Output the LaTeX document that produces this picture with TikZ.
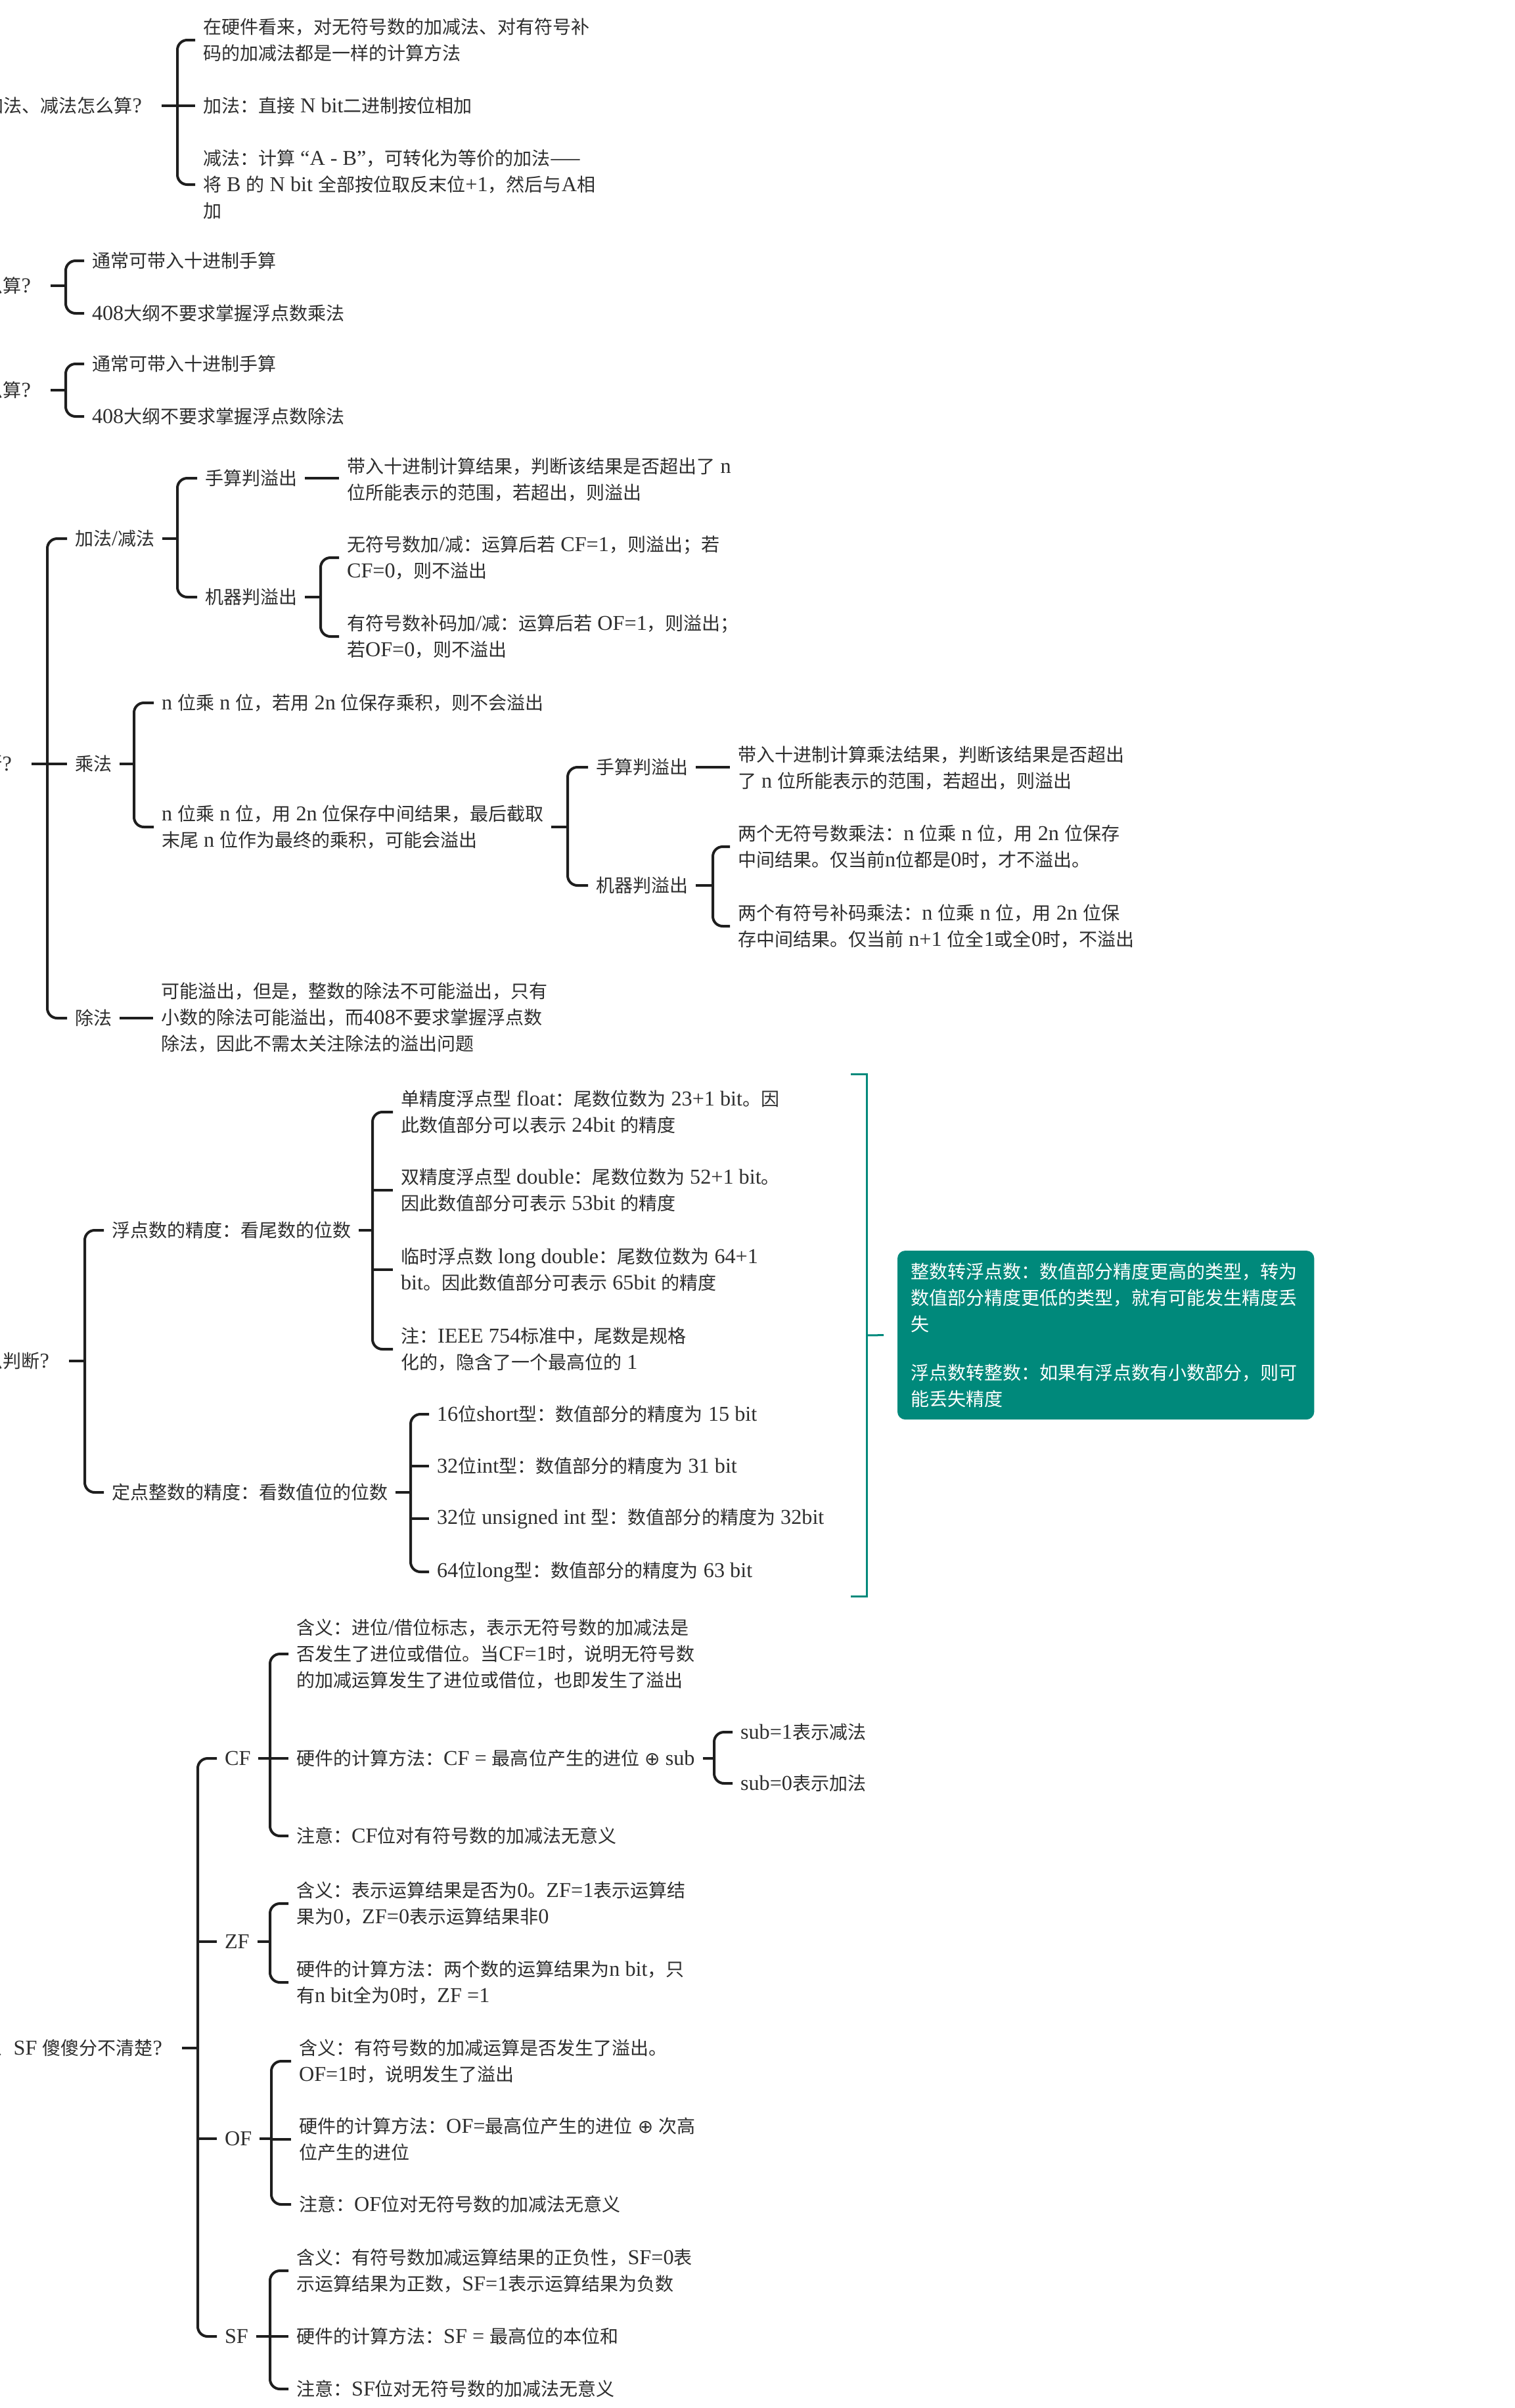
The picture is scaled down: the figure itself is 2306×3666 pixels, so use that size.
\documentclass[tikz,border=0pt]{standalone}
\usepackage{fontspec}
\setmainfont[Scale=1.15]{Liberation Serif}
\newfontfamily\cjkfont{Noto Sans CJK SC}
\newfontfamily\latfont[Scale=1.15]{Liberation Serif}
\newfontfamily\symfont{DejaVu Sans}
\XeTeXinterchartokenstate=1
\newXeTeXintercharclass\cjkclass
\makeatletter
\count@="3000
\loop\ifnum\count@<"3040 \XeTeXcharclass\count@=\cjkclass \advance\count@ 1 \repeat
\count@="4E00
\loop\ifnum\count@<"A000 \XeTeXcharclass\count@=\cjkclass \advance\count@ 1 \repeat
\count@="FF00
\loop\ifnum\count@<"FFF0 \XeTeXcharclass\count@=\cjkclass \advance\count@ 1 \repeat
\XeTeXcharclass"2014=\cjkclass
\makeatother
\XeTeXinterchartoks 0 \cjkclass = {\cjkfont}
\XeTeXinterchartoks 4095 \cjkclass = {\cjkfont}
\XeTeXinterchartoks \cjkclass 0 = {\latfont}
\XeTeXinterchartoks \cjkclass 4095 = {\latfont}
\definecolor{txt}{HTML}{2E2E2E}
\definecolor{ln}{HTML}{1E1E1E}
\definecolor{tealc}{HTML}{00897B}
\newcommand\mybrk[4]{%
  \coordinate (bx) at (#2,0);
  \draw[conn] (#1.east) -- (#1.east -| bx);
  \draw[conn,rounded corners=0.15cm] (#3.west) -- (#3.west -| bx) -- (#4.west -| bx) -- (#4.west);
}
\newcommand\midtick[1]{\draw[conn] (#1.west -| bx) -- (#1.west);}
\newcommand\onelink[2]{\draw[conn] (#1.east) -- (#1.east -| #2.west);}
\begin{document}
\begin{tikzpicture}[x=0.01cm,y=-0.01cm,
 every node/.style={font=\fontsize{7.97pt}{11.38pt}\selectfont,text=txt,inner ysep=1pt,outer sep=0pt},
 tx/.style={anchor=west,align=left,inner xsep=0.12cm},
 rt/.style={anchor=east,align=right,inner xsep=0.3cm},
 conn/.style={draw=ln,line width=0.04cm},
 tealln/.style={draw=tealc,line width=0.03cm},
 sumbox/.style={fill=tealc,rounded corners=0.12cm,text=white,align=left,text width=5.94cm,inner xsep=0.2cm,minimum height=2.57cm}]
\useasboundingbox (0,0) rectangle (2306,3666);
\fill[white] (0,0) rectangle (2306,3666);
\clip (0,0) rectangle (2306,3666);

% ---------- section 1
\node[rt] (r1) at (246,161) {加法、减法怎么算?};
\node[tx] (c1a) at (297,61) {在硬件看来，对无符号数的加减法、对有符号补\\码的加减法都是一样的计算方法};
\node[tx] (c1b) at (297,161) {加法：直接 N bit二进制按位相加};
\node[tx] (c1c) at (297,281) {减法：计算 “A - B”，可转化为等价的加法——\\将 B 的 N bit 全部按位取反末位+1，然后与A相\\加};
\mybrk{r1}{270}{c1a}{c1c}
\midtick{c1b}

% ---------- section 2
\node[rt] (r2) at (77,435) {乘法怎么算?};
\node[tx] (c2a) at (128,397) {通常可带入十进制手算};
\node[tx] (c2b) at (128,477) {408大纲不要求掌握浮点数乘法};
\mybrk{r2}{100}{c2a}{c2b}

% ---------- section 3
\node[rt] (r3) at (77,594) {除法怎么算?};
\node[tx] (c3a) at (128,554) {通常可带入十进制手算};
\node[tx] (c3b) at (128,634) {408大纲不要求掌握浮点数除法};
\mybrk{r3}{100}{c3a}{c3b}

% ---------- section 4
\node[rt] (r4) at (48,1163) {溢出怎么判断?};
\node[tx] (n41) at (102,820) {加法/减法};
\node[tx] (n42) at (102,1163) {乘法};
\node[tx] (n43) at (102,1550) {除法};
\mybrk{r4}{72}{n41}{n43}
\midtick{n42}

\node[tx] (n411) at (300,728) {手算判溢出};
\node[tx] (n412) at (300,909) {机器判溢出};
\mybrk{n41}{270}{n411}{n412}
\node[tx] (n4111) at (516,730) {带入十进制计算结果，判断该结果是否超出了 n\\位所能表示的范围，若超出，则溢出};
\onelink{n411}{n4111}
\node[tx] (n4121) at (516,849) {无符号数加/减：运算后若 CF=1，则溢出；若\\CF=0，则不溢出};
\node[tx] (n4122) at (516,969) {有符号数补码加/减：运算后若 OF=1，则溢出；\\若OF=0，则不溢出};
\mybrk{n412}{488}{n4121}{n4122}

\node[tx] (n421) at (234,1070) {n 位乘 n 位，若用 2n 位保存乘积，则不会溢出};
\node[tx] (n422) at (234,1259) {n 位乘 n 位，用 2n 位保存中间结果，最后截取\\末尾 n 位作为最终的乘积，可能会溢出};
\mybrk{n42}{204}{n421}{n422}
\node[tx] (n4221) at (895,1168) {手算判溢出};
\node[tx] (n4222) at (895,1348) {机器判溢出};
\mybrk{n422}{864}{n4221}{n4222}
\node[tx] (n42211) at (1111,1169) {带入十进制计算乘法结果，判断该结果是否超出\\了 n 位所能表示的范围，若超出，则溢出};
\onelink{n4221}{n42211}
\node[tx] (n42221) at (1111,1289) {两个无符号数乘法：n 位乘 n 位，用 2n 位保存\\中间结果。仅当前n位都是0时，才不溢出。};
\node[tx] (n42222) at (1111,1410) {两个有符号补码乘法：n 位乘 n 位，用 2n 位保\\存中间结果。仅当前 n+1 位全1或全0时，不溢出};
\mybrk{n4222}{1085}{n42221}{n42222}

\node[tx] (n431) at (233,1549) {可能溢出，但是，整数的除法不可能溢出，只有\\小数的除法可能溢出，而408不要求掌握浮点数\\除法，因此不需太关注除法的溢出问题};
\onelink{n43}{n431}

% ---------- section 5
\node[rt] (r5) at (105,2072) {怎么判断?};
\node[tx] (n51) at (158,1873) {浮点数的精度：看尾数的位数};
\node[tx] (n52) at (158,2272) {定点整数的精度：看数值位的位数};
\mybrk{r5}{129}{n51}{n52}

\node[tx] (n511) at (598,1693) {单精度浮点型 float：尾数位数为 23+1 bit。因\\此数值部分可以表示 24bit 的精度};
\node[tx] (n512) at (598,1812) {双精度浮点型 double：尾数位数为 52+1 bit。\\因此数值部分可表示 53bit 的精度};
\node[tx] (n513) at (598,1933) {临时浮点数 long double：尾数位数为 64+1\\bit。因此数值部分可表示 65bit 的精度};
\node[tx] (n514) at (598,2054) {注：IEEE 754标准中，尾数是规格\\化的，隐含了一个最高位的 1};
\mybrk{n51}{567}{n511}{n514}
\midtick{n512}
\midtick{n513}

\node[tx] (n521) at (653,2153) {16位short型：数值部分的精度为 15 bit};
\node[tx] (n522) at (653,2232) {32位int型：数值部分的精度为 31 bit};
\node[tx] (n523) at (653,2312) {32位 unsigned int 型：数值部分的精度为 32bit};
\node[tx] (n524) at (653,2393) {64位long型：数值部分的精度为 63 bit};
\mybrk{n52}{625}{n521}{n524}
\midtick{n522}
\midtick{n523}

% summary
\node[sumbox,anchor=north west] (sum) at (1366,1904) {整数转浮点数：数值部分精度更高的类型，转为\\数值部分精度更低的类型，就有可能发生精度丢\\失\\[0.34cm]浮点数转整数：如果有浮点数有小数部分，则可\\能丢失精度};
\coordinate (ta) at (1295,1635);
\coordinate (tb) at (1319,1635);
\coordinate (tc) at (1319,2430);
\coordinate (td) at (1295,2430);
\coordinate (tm) at (1319,2033);
\draw[tealln] (ta) -- (tb) -- (tc) -- (td);
\draw[tealln] (tm) -- ([xshift=-0.21cm]sum.west);

% ---------- section 6
\node[rt] (r6) at (277,3118) {CF、ZF、OF、SF 傻傻分不清楚?};
\node[tx] (n61) at (330,2677) {CF};
\node[tx] (n62) at (330,2956) {ZF};
\node[tx] (n63) at (330,3256) {OF};
\node[tx] (n64) at (330,3557) {SF};
\mybrk{r6}{301}{n61}{n64}
\midtick{n62}
\midtick{n63}

\node[tx] (n611) at (439,2518) {含义：进位/借位标志，表示无符号数的加减法是\\否发生了进位或借位。当CF=1时，说明无符号数\\的加减运算发生了进位或借位，也即发生了溢出};
\node[tx] (n612) at (439,2677) {硬件的计算方法：CF = 最高位产生的进位 {\symfont ⊕} sub};
\node[tx] (n613) at (439,2795) {注意：CF位对有符号数的加减法无意义};
\mybrk{n61}{411}{n611}{n613}
\midtick{n612}
\node[tx] (n6121) at (1115,2637) {sub=1表示减法};
\node[tx] (n6122) at (1115,2715) {sub=0表示加法};
\mybrk{n612}{1087}{n6121}{n6122}

\node[tx] (n621) at (439,2898) {含义：表示运算结果是否为0。ZF=1表示运算结\\果为0，ZF=0表示运算结果非0};
\node[tx] (n622) at (439,3018) {硬件的计算方法：两个数的运算结果为n bit，只\\有n bit全为0时，ZF =1};
\mybrk{n62}{411}{n621}{n622}

\node[tx] (n631) at (443,3138) {含义：有符号数的加减运算是否发生了溢出。\\OF=1时，说明发生了溢出};
\node[tx] (n632) at (443,3257) {硬件的计算方法：OF=最高位产生的进位 {\symfont ⊕} 次高\\位产生的进位};
\node[tx] (n633) at (443,3356) {注意：OF位对无符号数的加减法无意义};
\mybrk{n63}{413}{n631}{n633}
\midtick{n632}

\node[tx] (n641) at (439,3457) {含义：有符号数加减运算结果的正负性，SF=0表\\示运算结果为正数，SF=1表示运算结果为负数};
\node[tx] (n642) at (439,3557) {硬件的计算方法：SF = 最高位的本位和};
\node[tx] (n643) at (439,3637) {注意：SF位对无符号数的加减法无意义};
\mybrk{n64}{411}{n641}{n643}
\midtick{n642}
\end{tikzpicture}
\end{document}
